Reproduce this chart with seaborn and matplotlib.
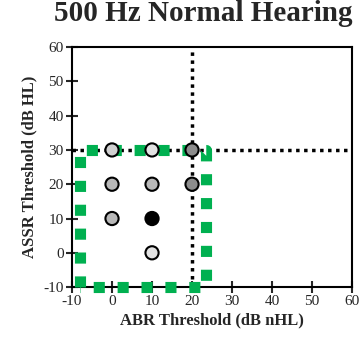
import pandas as pd
import matplotlib.pyplot as plt
import seaborn as sns

# Data points
abr = [0, 10, 20, 0, 10, 20, 0, 10, 10]
assr = [30, 30, 30, 20, 20, 20, 10, 10, 0]
shade = ['light', 'pale', 'dark', 'mid', 'mid', 'dark', 'mid', 'black', 'pale']

shade_colors = {'pale': '#e2e2e2', 'light': '#d0d0d0', 'mid': '#b8b8b8',
                'dark': '#8c8c8c', 'black': '#000000'}

# reference lines and green box
cut_x = 20
cut_y = 30
box_x = [-8, 23.5]
box_y = [-10, 30]

df = pd.DataFrame({'ABR': abr, 'ASSR': assr, 'shade': shade})

sns.set_style('white')
plt.rcParams['font.family'] = ['Liberation Serif', 'DejaVu Serif']
plt.rcParams['axes.unicode_minus'] = False

fig = plt.figure(figsize=(3.6, 3.54), dpi=100)
ax = fig.add_axes([0.2, 0.189, 0.778, 0.678])

# dotted black reference lines
ax.plot([cut_x, cut_x], [-10, 60], color='black', lw=2.5, ls=(0, (1, 1.3)), zorder=2)
ax.plot([-10, 60], [cut_y, cut_y], color='black', lw=2.5, ls=(0, (1, 1.3)), zorder=2)

# green dashed box (closed)
gx = [box_x[0], box_x[0], box_x[1], box_x[1], box_x[0]]
gy = [box_y[0], box_y[1], box_y[1], box_y[0], box_y[0]]
ax.plot(gx, gy, color='#00b050', lw=8, ls=(0, (1.0, 1.15)),
        dash_capstyle='butt', zorder=3, clip_on=False)

sns.scatterplot(data=df, x='ABR', y='ASSR', hue='shade', palette=shade_colors,
                s=90, edgecolor='black', linewidth=1.5, legend=False, ax=ax, zorder=4)

ax.set_xlim(-10, 60)
ax.set_ylim(-10, 60)
ax.set_xticks(range(-10, 61, 10))
ax.set_yticks(range(-10, 61, 10))
ax.tick_params(direction='inout', length=8, width=1.5, labelsize=11, pad=2,
               bottom=True, left=True)
for s in ax.spines.values():
    s.set_linewidth(1.5)
    s.set_color('black')

ax.set_xlabel('ABR Threshold (dB nHL)', fontsize=12, fontweight='bold', labelpad=3)
ax.set_ylabel('ASSR Threshold (dB HL)', fontsize=12, fontweight='bold', labelpad=4)
fig.suptitle('500 Hz Normal Hearing', fontsize=21, fontweight='bold', x=0.565, y=1.0)

fig.savefig('out.png', dpi=100)
